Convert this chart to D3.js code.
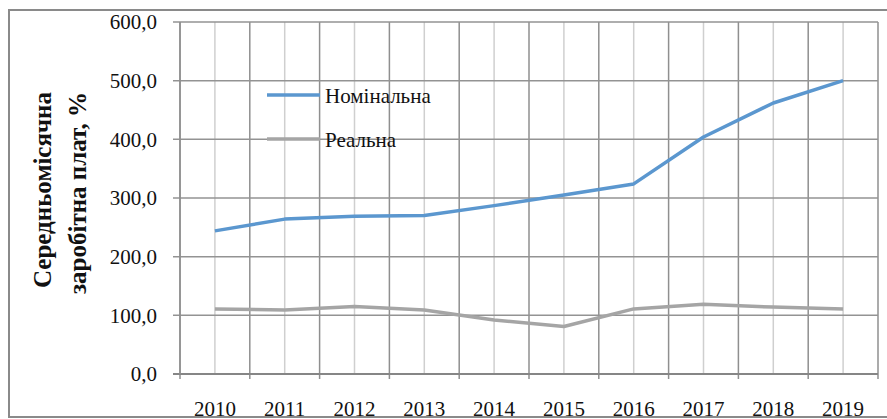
<!DOCTYPE html>
<html>
<head>
<meta charset="utf-8">
<script src="https://cdn.jsdelivr.net/npm/d3@7"></script>
<style>
  body { margin: 0; background: #fff; }
  text { font-family: "Liberation Serif", "DejaVu Serif", serif; }
</style>
</head>
<body>
<svg id="chart" width="887" height="419"></svg>
<script>
// Data
const years = ["2010", "2011", "2012", "2013", "2014", "2015", "2016", "2017", "2018", "2019"];
const nominal = [244, 264, 269, 270, 287, 305, 324, 404, 462, 500];
const real = [111, 109, 115, 109, 92, 81, 111, 119, 114, 111];
const yTicks = [0, 100, 200, 300, 400, 500, 600];
const seriesNames = ["Номінальна", "Реальна"];
const titleLines = ["Середньомісячна", "заробітна плат, %"];

const plot = { left: 180, right: 878, top: 22, bottom: 374 };
const colors = ["#5b97cf", "#a5a5a5"];
const serif = "'Liberation Serif', 'DejaVu Serif', serif";

const svg = d3.select("#chart");

// outer frame
svg.append("rect")
  .attr("x", 9).attr("y", 10)
  .attr("width", 900).attr("height", 407)
  .attr("fill", "none")
  .attr("stroke", "#8a8a8a")
  .attr("stroke-width", 2);

const x = d3.scaleBand().domain(years).range([plot.left, plot.right]).padding(0);
const y = d3.scaleLinear().domain([0, 600]).range([plot.bottom, plot.top]);

// light vertical lines at category centres
svg.append("g")
  .selectAll("line")
  .data(years)
  .join("line")
  .attr("x1", (d) => x(d) + x.bandwidth() / 2)
  .attr("x2", (d) => x(d) + x.bandwidth() / 2)
  .attr("y1", plot.top).attr("y2", plot.bottom)
  .attr("stroke", "#cfcfcf")
  .attr("stroke-width", 1.5);

// darker vertical lines at category boundaries (with tick below axis)
const bounds = years.map((d) => x(d)).concat([plot.right]);
svg.append("g")
  .selectAll("line")
  .data(bounds)
  .join("line")
  .attr("x1", (d) => d).attr("x2", (d) => d)
  .attr("y1", plot.top).attr("y2", plot.bottom + 5)
  .attr("stroke", "#8f8f8f")
  .attr("stroke-width", 1.5);

// horizontal grid + y ticks
svg.append("g")
  .selectAll("line")
  .data(yTicks)
  .join("line")
  .attr("x1", plot.left - 7).attr("x2", plot.right)
  .attr("y1", (d) => y(d)).attr("y2", (d) => y(d))
  .attr("stroke", (d) => (d === 0 ? "#868686" : "#939393"))
  .attr("stroke-width", (d) => (d === 0 ? 2 : 1.5));

// y-axis line
svg.append("line")
  .attr("x1", plot.left).attr("x2", plot.left)
  .attr("y1", plot.top).attr("y2", plot.bottom)
  .attr("stroke", "#8f8f8f")
  .attr("stroke-width", 1.5);

// y tick labels
svg.append("g")
  .selectAll("text")
  .data(yTicks)
  .join("text")
  .attr("x", 157)
  .attr("y", (d) => y(d))
  .attr("dy", "0.35em")
  .attr("text-anchor", "end")
  .attr("font-family", serif)
  .attr("font-size", 21)
  .attr("fill", "#111")
  .text((d) => d3.format(".1f")(d).replace(".", ","));

// x tick labels
svg.append("g")
  .selectAll("text")
  .data(years)
  .join("text")
  .attr("x", (d) => x(d) + x.bandwidth() / 2)
  .attr("y", 416)
  .attr("text-anchor", "middle")
  .attr("font-family", serif)
  .attr("font-size", 21)
  .attr("fill", "#111")
  .text((d) => d);

// lines
const line = d3.line()
  .x((d, i) => x(years[i]) + x.bandwidth() / 2)
  .y((d) => y(d));

[nominal, real].forEach((s, i) => {
  svg.append("path")
    .datum(s)
    .attr("d", line)
    .attr("fill", "none")
    .attr("stroke", colors[i])
    .attr("stroke-width", 3.5)
    .attr("stroke-linejoin", "round");
});

// legend
const legend = svg.append("g");
seriesNames.forEach((name, i) => {
  const ly = 95 + i * 44;
  legend.append("line")
    .attr("x1", 267).attr("x2", 320)
    .attr("y1", ly).attr("y2", ly)
    .attr("stroke", colors[i])
    .attr("stroke-width", 3.5);
  legend.append("text")
    .attr("x", 325).attr("y", ly + 8)
    .attr("font-family", serif)
    .attr("font-size", 21)
    .attr("fill", "#111")
    .text(name);
});

// y-axis title
svg.append("g")
  .selectAll("text")
  .data(titleLines)
  .join("text")
  .attr("transform", (d, i) => `translate(${i === 0 ? 51 : 86},92) rotate(-90)`)
  .attr("text-anchor", "end")
  .attr("font-family", serif)
  .attr("font-size", 25)
  .attr("font-weight", "bold")
  .attr("fill", "#111")
  .text((d) => d);
</script>
</body>
</html>
